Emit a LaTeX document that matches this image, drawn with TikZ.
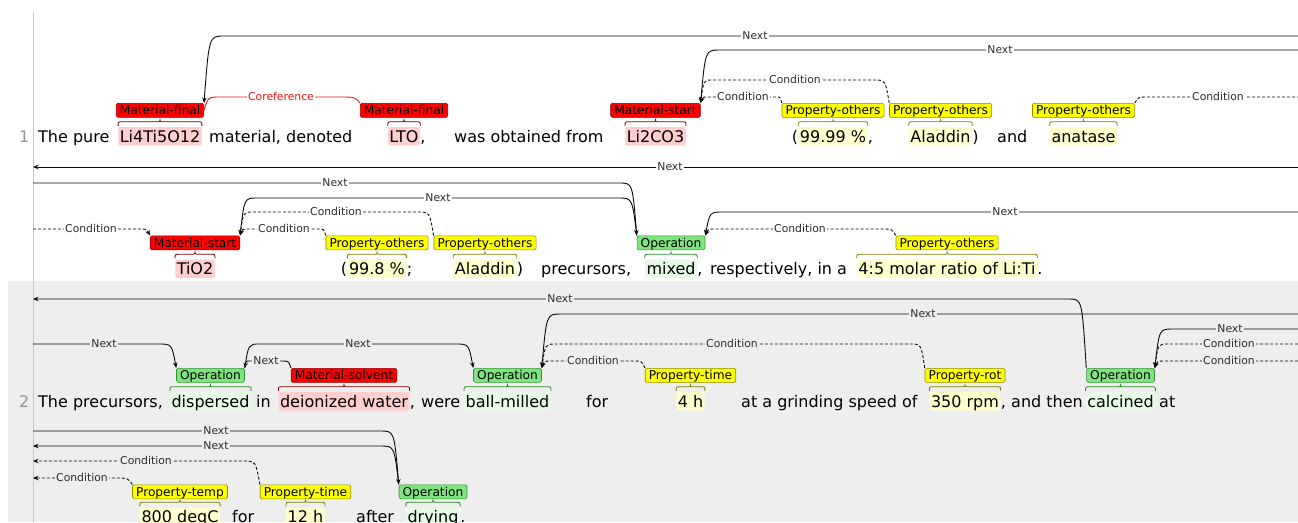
\documentclass[tikz,border=0pt]{standalone}
\usepackage{fontspec}
\newfontfamily\dvs{DejaVu Sans}
\usetikzlibrary{calc,arrows.meta}
\newcommand\MyT{\dvs\fontsize{16pt}{19pt}\selectfont}
\newcommand\MyL{\dvs\fontsize{12.2pt}{14pt}\selectfont}
\newcommand\MyA{\dvs\fontsize{10.8pt}{12pt}\selectfont}
\definecolor{rowgrey}{RGB}{238,238,238}
\definecolor{vlinec}{RGB}{200,200,200}
\definecolor{numc}{RGB}{150,150,150}
\definecolor{matfill}{RGB}{255,0,0}
\definecolor{matdraw}{RGB}{140,0,0}
\definecolor{mathl}{RGB}{255,206,206}
\definecolor{matbr}{RGB}{128,0,0}
\definecolor{propfill}{RGB}{255,255,0}
\definecolor{propdraw}{RGB}{140,140,0}
\definecolor{prophl}{RGB}{255,255,206}
\definecolor{propbr}{RGB}{128,128,0}
\definecolor{opfill}{RGB}{127,228,127}
\definecolor{opdraw}{RGB}{50,150,50}
\definecolor{ophl}{RGB}{230,250,230}
\definecolor{opbr}{RGB}{40,140,40}
\definecolor{arcc}{RGB}{10,10,10}
\definecolor{arctext}{RGB}{45,45,45}
\definecolor{corefred}{RGB}{240,20,20}
\def\arcbg{white}
\newcommand\ArcNN[8][]{%
 \draw[#1] let \p1=(#2), \p2=(#3) in (\p1) .. controls ({\x1+0.25*(#5pt)},{-#4pt}) .. ({\x1+(#5pt)},{-#4pt}) -- ({\x2+(#6pt)},{-#4pt}) .. controls ({\x2+0.25*(#6pt)},{-#4pt}) .. (\p2);
 \node[arclab] at (#7,#4) {#8};}
\newcommand\ArcEN[6][]{%
 \draw[#1] let \p1=(#2), \p2=(#3) in (\p1) -- ({\x2+(#4pt)},\y1) .. controls ({\x2+0.25*(#4pt)},\y1) .. (\p2);
 \path let \p1=(#2) in node[arclab] at (#5pt,\y1) {#6};}
\newcommand\ArcNE[6][]{%
 \draw[#1] let \p1=(#2), \p2=(#3) in (\p1) .. controls ({\x1+0.25*(#4pt)},\y2) .. ({\x1+(#4pt)},\y2) -- (\p2);
 \path let \p1=(#3) in node[arclab] at (#5pt,\y1) {#6};}
\newcommand\SpanBrace[3]{%
 \draw[#1, line width=0.8pt] let \p1=(#2.north west), \p2=(#2.north east), \p3=(#3.south) in
 (\x1,{\y1+1pt}) .. controls (\x1,{\y1+5pt}) .. ({\x1+4pt},{\y1+5pt}) -- ({\x3-4pt},{\y1+5pt})
 .. controls (\x3,{\y1+5pt}) .. (\x3,{\y3-1pt}) .. controls (\x3,{\y1+5pt}) .. ({\x3+4pt},{\y1+5pt})
 -- ({\x2-4pt},{\y1+5pt}) .. controls (\x2,{\y1+5pt}) .. (\x2,{\y1+1pt});}
\begin{document}
\begin{tikzpicture}[x=1pt,y=-1pt,
 tx/.style={font=\MyT, anchor=base west, inner sep=0pt},
 sp/.style={font=\MyT, anchor=base, inner xsep=1.5pt, inner ysep=0pt, text height=15pt, text depth=3.5pt, rounded corners=2pt},
 msp/.style={sp, fill=mathl}, psp/.style={sp, fill=prophl}, osp/.style={sp, fill=ophl},
 lab/.style={font=\MyL, anchor=north, inner xsep=3.6pt, inner ysep=0pt, text height=11.5pt, text depth=2.5pt, rounded corners=1.5pt, line width=0.6pt},
 matl/.style={lab, fill=matfill, draw=matdraw},
 propl/.style={lab, fill=propfill, draw=propdraw},
 opl/.style={lab, fill=opfill, draw=opdraw},
 arclab/.style={font=\MyA, text=arctext, fill=\arcbg, inner xsep=1.5pt, inner ysep=0.6pt, text height=7.8pt, text depth=0pt, anchor=center},
 nextarc/.style={draw=arcc, line width=0.9pt},
 condarc/.style={draw=arcc, line width=0.9pt, dash pattern=on 3pt off 2pt},
 corefarc/.style={draw=corefred, line width=0.9pt},
 arrowend/.style={-{Stealth[length=5.5pt,width=4.5pt]}}
]
\useasboundingbox (0,0) rectangle (1298,522);
\fill[white] (0,0) rectangle (1298,522);
\fill[rowgrey] (8,281) rectangle (1298,522);
\draw[vlinec, line width=1pt] (33,12) -- (33,522);
\node[font=\MyT, text=numc, anchor=base east, inner sep=0pt] (n1) at (29.5,142) {1};
\node[font=\MyT, text=numc, anchor=base east, inner sep=0pt] (n2) at (29.5,407) {2};

% edge coordinates
\coordinate (r36) at (1298,36);
\coordinate (r50) at (1298,50);
\coordinate (r97) at (1298,97);
\coordinate (r167) at (1298,167);
\coordinate (l167) at (33,167);
\coordinate (l183) at (33,183);
\coordinate (l229) at (33,229);
\coordinate (r212) at (1298,212);
\coordinate (l299) at (33,299);
\coordinate (r314) at (1298,314);
\coordinate (l344) at (33,344);
\coordinate (r329) at (1298,329);
\coordinate (r344) at (1298,344);
\coordinate (r361) at (1298,361);
\coordinate (l431) at (33,431);
\coordinate (l446) at (33,446);
\coordinate (l461) at (33,461);
\coordinate (l478) at (33,478);

% ---------- row 1 text ----------
\node[tx] (w1) at (38,142) {The pure};
\node[msp] (t1) at (160,142) {Li4Ti5O12};
\node[tx] (w2) at (209,142) {material, denoted};
\node[msp] (t2) at (404,142) {LTO};
\node[tx] at (t2.base east) {,};
\node[tx] (w3) at (454,142) {was obtained from};
\node[msp] (t3) at (655.5,142) {Li2CO3};
\node[psp] (t4) at (833,142) {99.99 \%};
\node[tx, anchor=base east] at (t4.base west) {(};
\node[tx] at (t4.base east) {,};
\node[psp] (t5) at (940.5,142) {Aladdin};
\node[tx] at (t5.base east) {)};
\node[tx] (w4) at (997,142) {and};
\node[psp] (t6) at (1083.5,142) {anatase};

\node[matl] (m1) at (160,103) {Material-final};
\node[matl] (m2) at (404,103) {Material-final};
\node[matl] (m3) at (655.5,103) {Material-start};
\node[propl] (p1) at (833,103) {Property-others};
\node[propl] (p2) at (940.5,103) {Property-others};
\node[propl] (p3) at (1083.5,103) {Property-others};
\SpanBrace{matbr}{t1}{m1}
\SpanBrace{matbr}{t2}{m2}
\SpanBrace{matbr}{t3}{m3}
\SpanBrace{propbr}{t4}{p1}
\SpanBrace{propbr}{t5}{p2}
\SpanBrace{propbr}{t6}{p3}

% ---------- row 1b text ----------
\node[msp] (t7) at (195,274.5) {TiO2};
\node[psp] (t8) at (377,274.5) {99.8 \%};
\node[tx, anchor=base east] at (t8.base west) {(};
\node[tx] at (t8.base east) {;};
\node[psp] (t9) at (485,274.5) {Aladdin};
\node[tx] at (t9.base east) {)};
\node[tx] (w5) at (541,274.5) {precursors,};
\node[osp] (t10) at (671,274.5) {mixed};
\node[tx] at (t10.base east) {,};
\node[tx] (w6) at (710,274.5) {respectively, in a};
\node[psp] (t11) at (947,274.5) {4:5 molar ratio of Li:Ti};
\node[tx] at (t11.base east) {.};

\node[matl] (m4) at (195,235.5) {Material-start};
\node[propl] (p4) at (377,235.5) {Property-others};
\node[propl] (p5) at (485,235.5) {Property-others};
\node[opl] (o1) at (671,235.5) {Operation};
\node[propl] (p6) at (947,235.5) {Property-others};
\SpanBrace{matbr}{t7}{m4}
\SpanBrace{propbr}{t8}{p4}
\SpanBrace{propbr}{t9}{p5}
\SpanBrace{opbr}{t10}{o1}
\SpanBrace{propbr}{t11}{p6}

% ---------- row 2 text ----------
\node[tx] (w7) at (38,407) {The precursors,};
\node[osp] (t12) at (210.5,407) {dispersed};
\node[tx] (w8) at (256,407) {in};
\node[msp] (t13) at (344,407) {deionized water};
\node[tx] at (t13.base east) {,};
\node[tx] (w9) at (421,407) {were};
\node[osp] (t14) at (507.5,407) {ball-milled};
\node[tx] (w10) at (586,407) {for};
\node[psp] (t15) at (690.5,407) {4 h};
\node[tx] (w11) at (741,407) {at a grinding speed of};
\node[psp] (t16) at (965,407) {350 rpm};
\node[tx] at (t16.base east) {,};
\node[tx] (w12) at (1011,407) {and then};
\node[osp] (t17) at (1120.5,407) {calcined};
\node[tx] (w13) at (1159,407) {at};

\node[opl] (o2) at (210.5,368) {Operation};
\node[matl] (m5) at (344,368) {Material-solvent};
\node[opl] (o3) at (507.5,368) {Operation};
\node[propl] (p7) at (690.5,368) {Property-time};
\node[propl] (p8) at (965,368) {Property-rot};
\node[opl] (o4) at (1120.5,368) {Operation};
\SpanBrace{opbr}{t12}{o2}
\SpanBrace{matbr}{t13}{m5}
\SpanBrace{opbr}{t14}{o3}
\SpanBrace{propbr}{t15}{p7}
\SpanBrace{propbr}{t16}{p8}
\SpanBrace{opbr}{t17}{o4}

% ---------- row 2b text ----------
\node[psp] (t18) at (180,522.5) {800 degC};
\node[tx] (w14) at (232,522.5) {for};
\node[psp] (t19) at (305.5,522.5) {12 h};
\node[tx] (w15) at (356,522.5) {after};
\node[osp] (t20) at (433,522.5) {drying};
\node[tx] at (t20.base east) {.};

\node[propl] (p9) at (180,484.5) {Property-temp};
\node[propl] (p10) at (305.5,484.5) {Property-time};
\node[opl] (o5) at (433,484.5) {Operation};
\SpanBrace{propbr}{t18}{p9}
\SpanBrace{propbr}{t19}{p10}
\SpanBrace{opbr}{t20}{o5}

% ---------- arcs row 1 ----------
\ArcEN[nextarc,arrowend]{r36}{m1.north east}{20}{755}{Next}
\ArcEN[nextarc,arrowend]{r50}{m3.north east}{19}{1000}{Next}
\draw[corefarc] let \p1=(m1.east), \p2=(m2.north west) in (\p1) .. controls ({\x1+4pt},-97pt) .. ({\x1+17pt},-97pt) -- ({\x2-20pt},-97pt) .. controls ({\x2-5pt},-97pt) .. (\p2);
\node[arclab, text=corefred] at (281,97) {Coreference};
\ArcNN[condarc,arrowend]{p1.north west}{m3.north east}{97}{-5}{8}{743}{Condition}
\ArcNN[condarc,arrowend]{p2.north west}{m3.north east}{80}{-15}{12}{795}{Condition}
\ArcNE[condarc]{p3.north east}{r97}{13}{1218}{Condition}

% ---------- arcs row 1b ----------
\draw[nextarc,arrowend] (r167) -- (l167);
\node[arclab] at (670,167) {Next};
\ArcEN[nextarc,arrowend]{l183}{o1.north west}{-17}{335}{Next}
\ArcNN[nextarc,arrowend]{o1.north west}{m4.north east}{198}{-18}{17}{438}{Next}
\ArcEN[condarc,arrowend]{l229}{m4.north west}{-13}{91}{Condition}
\ArcNN[condarc,arrowend]{p4.north west}{m4.north east}{229}{-7}{9}{284}{Condition}
\ArcNN[condarc,arrowend]{p5.north west}{m4.north east}{212}{-16}{13}{336}{Condition}
\ArcEN[nextarc,arrowend]{r212}{o1.north east}{18}{1005}{Next}
\ArcNN[condarc,arrowend]{p6.north west}{o1.north east}{229}{-14}{12}{800}{Condition}

% ---------- arcs row 2 ----------
\def\arcbg{rowgrey}
\ArcNE[nextarc,arrowend]{o4.north west}{l299}{-17}{560}{Next}
\ArcEN[nextarc,arrowend]{r314}{o3.north east}{19}{923}{Next}
\ArcEN[nextarc,arrowend]{l344}{o2.north west}{-18}{104}{Next}
\ArcNN[nextarc,arrowend]{o2.north east}{o3.north west}{344}{15}{-18}{358}{Next}
\ArcNN[nextarc,arrowend]{m5.north west}{o2.north east}{361}{-9}{5}{266}{Next}
\ArcNN[condarc,arrowend]{p7.north west}{o3.north east}{361}{-12}{10}{593}{Condition}
\ArcNN[condarc,arrowend]{p8.north west}{o3.north east}{344}{-14}{14}{732}{Condition}
\ArcEN[nextarc,arrowend]{r329}{o4.north east}{18}{1230}{Next}
\ArcEN[condarc,arrowend]{r344}{o4.north east}{13}{1229}{Condition}
\ArcEN[condarc,arrowend]{r361}{o4.north east}{11}{1229}{Condition}

% ---------- arcs row 2b ----------
\ArcEN[nextarc,arrowend]{l431}{o5.north west}{-18}{216}{Next}
\ArcNE[nextarc,arrowend]{o5.north west}{l446}{-18}{216}{Next}
\ArcNE[condarc,arrowend]{p10.north west}{l461}{-17}{146}{Condition}
\ArcNE[condarc,arrowend]{p9.north west}{l478}{-17}{82}{Condition}
\end{tikzpicture}
\end{document}
